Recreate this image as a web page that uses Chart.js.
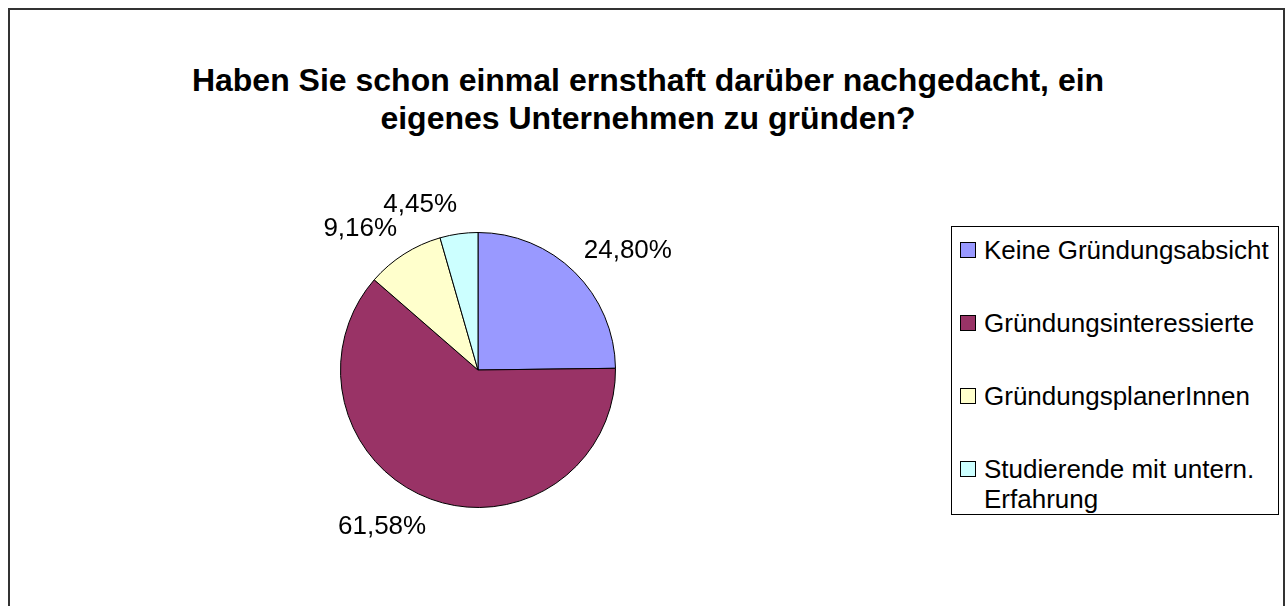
<!DOCTYPE html>
<html lang="de">
<head>
<meta charset="UTF-8">
<title>Gründungsabsicht</title>
<style>
  body {
    margin: 0;
    background: #ffffff;
    font-family: 'Liberation Sans', Arial, sans-serif;
  }
  #frame {
    position: absolute;
    left: 8px;
    top: 8px;
    width: 1277px;
    height: 640px;
    border: 2px solid #333333;
    box-sizing: border-box;
  }
  #title {
    position: absolute;
    left: 0;
    top: 61px;
    width: 1296px;
    text-align: center;
    font-weight: bold;
    font-size: 32px;
    line-height: 38px;
    color: #000;
  }
  #pie-box {
    position: absolute;
    left: 278px;
    top: 170px;
    width: 400px;
    height: 400px;
  }
  #legend {
    position: absolute;
    left: 951px;
    top: 226px;
    width: 328px;
    height: 289px;
    border: 1px solid #000;
    box-sizing: border-box;
    padding: 8px 4px 0 8px;
    font-size: 26px;
    line-height: 30px;
  }
  .item {
    display: flex;
    align-items: flex-start;
    margin-bottom: 43px;
  }
  .sw {
    flex: none;
    width: 14px;
    height: 14px;
    border: 1px solid #000;
    margin-top: 7px;
    margin-right: 8px;
  }
</style>
<script src="https://cdn.jsdelivr.net/npm/chart.js@4"></script>
</head>
<body>
<div id="frame"></div>
<div id="title">Haben Sie schon einmal ernsthaft darüber nachgedacht, ein<br>eigenes Unternehmen zu gründen?</div>
<div id="pie-box"><canvas id="pie"></canvas></div>
<div id="legend"></div>

<script>
// Daten
const labels = ['Keine Gründungsabsicht', 'Gründungsinteressierte', 'GründungsplanerInnen', 'Studierende mit untern. Erfahrung'];
const werte = [24.80, 61.58, 9.16, 4.45];
const farben = ['#9999FF', '#993366', '#FFFFCC', '#CCFFFF'];

// Legende als HTML
const legend = document.getElementById('legend');
labels.forEach((l, i) => {
  const item = document.createElement('div');
  item.className = 'item';
  const sw = document.createElement('span');
  sw.className = 'sw';
  sw.style.background = farben[i];
  const txt = document.createElement('span');
  txt.textContent = l;
  item.appendChild(sw);
  item.appendChild(txt);
  legend.appendChild(item);
});

// Prozent-Beschriftung außerhalb der Stücke
const pctLabels = {
  id: 'pctLabels',
  afterDatasetsDraw(chart) {
    const ctx = chart.ctx;
    const meta = chart.getDatasetMeta(0);
    ctx.save();
    ctx.font = '26px "Liberation Sans", Arial, sans-serif';
    ctx.fillStyle = '#000';
    ctx.textAlign = 'center';
    ctx.textBaseline = 'middle';
    meta.data.forEach((arc, i) => {
      const mid = (arc.startAngle + arc.endAngle) / 2;
      const c = Math.cos(mid), s = Math.sin(mid);
      const ax = arc.x + (arc.outerRadius + 13) * c;
      const ay = arc.y + (arc.outerRadius + 13) * s;
      const txt = werte[i].toFixed(2).replace('.', ',') + '%';
      const w = ctx.measureText(txt).width;
      const h = 22;
      ctx.fillText(txt, ax + Math.sign(c) * w / 2, ay + s * h * 0.75);
    });
    ctx.restore();
  }
};

new Chart(document.getElementById('pie'), {
  type: 'pie',
  data: {
    labels: labels,
    datasets: [{
      data: werte,
      backgroundColor: farben,
      borderColor: '#000',
      borderWidth: 1
    }]
  },
  options: {
    responsive: true,
    maintainAspectRatio: false,
    animation: false,
    layout: { padding: 62 },
    plugins: {
      legend: { display: false },
      tooltip: { enabled: false }
    }
  },
  plugins: [pctLabels]
});
</script>
</body>
</html>
